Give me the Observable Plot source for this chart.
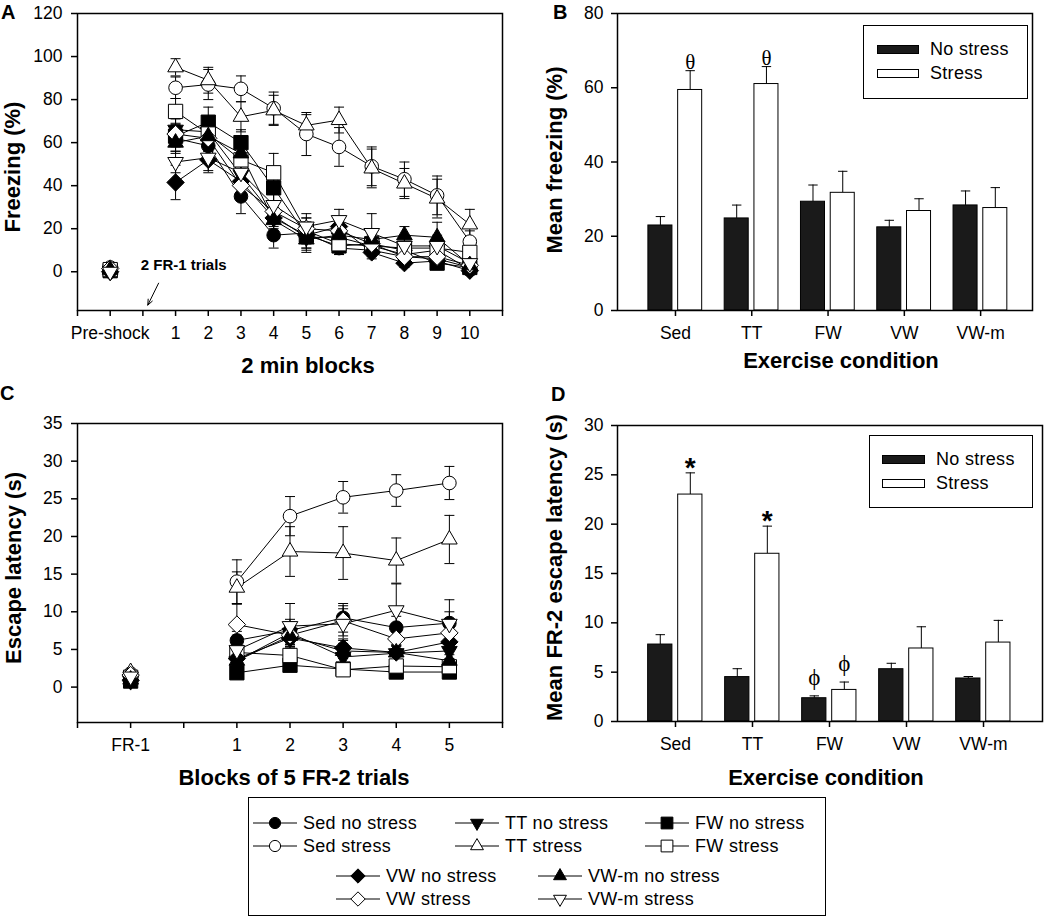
<!DOCTYPE html>
<html><head><meta charset="utf-8">
<script src="https://cdn.jsdelivr.net/npm/d3@7"></script>
<script src="https://cdn.jsdelivr.net/npm/@observablehq/plot@0.6"></script>
<style>
body{margin:0;background:white;}
#fig{position:relative;width:1050px;height:918px;font-family:'Liberation Sans',Arial,sans-serif;color:black;overflow:hidden;background:white}
.letter{position:absolute;font-weight:bold;font-size:20px;line-height:22px;z-index:5}
.legbox{position:absolute;border:1.5px solid black;box-sizing:border-box;background:white}
.legtxt{position:absolute;font-size:18px;line-height:20px;white-space:nowrap;letter-spacing:0.3px}
.sw{position:absolute;box-sizing:border-box;border:1px solid black}
</style></head><body><div id="fig"></div><script>
// ---------------- DATA ----------------
const groups = ["Sed no stress","Sed stress","TT no stress","TT stress","FW no stress","FW stress","VW no stress","VW stress","VW-m no stress","VW-m stress"];
const conditions = ["Sed","TT","FW","VW","VW-m"];

// Panel A: freezing (%) — Pre-shock, blocks 1..10
const blocksA = ["Pre-shock","1","2","3","4","5","6","7","8","9","10"];
const frzSedNo   = [0.5, 62, 58.5, 35, 17, 18, 11, 10, 7, 6, 2];
const frzSedSt   = [2, 85.5, 87, 85, 76, 64, 58, 49, 43, 35.5, 14];
const frzTTNo    = [0.5, 66, 65, 45, 26, 16, 16, 12, 8, 10, 1];
const frzTTSt    = [1, 95, 89, 72, 75, 68, 70.5, 48, 41, 34, 22];
const frzFWNo    = [0.5, 63, 69.5, 60, 39, 17, 12, 13, 10, 4, 2];
const frzFWSt    = [1, 74.5, 64, 52, 46, 19, 13, 12, 11, 11, 9];
const frzVWNo    = [0, 41.5, 52, 42, 25, 17, 21, 9, 4, 5, 0.5];
const frzVWSt    = [1.5, 64, 62, 40, 28, 20, 19, 13, 7, 7, 3];
const frzVWmNo   = [1, 60, 63, 55, 24, 15, 17, 15, 17, 16, 3];
const frzVWmSt   = [0, 51, 53, 46, 31, 21, 24, 18, 12, 12, 4];
const semSedNoA  = [0.5, 6, 6, 8, 6, 5, 3, 3, 2, 3, 2];
const semSedStA  = [1, 5, 7, 6, 7.5, 10, 9, 9, 8, 9, 5];
const semTTNoA   = [0.5, 5, 6, 6, 5, 6, 3, 3, 3, 5, 2];
const semTTStA   = [1, 4, 6, 7, 7, 5, 6, 9, 7, 9, 7];
const semFWNoA   = [0.5, 5, 7, 6, 7, 6, 4, 3, 3, 3, 2];
const semFWStA   = [1, 6, 8, 6, 9, 6, 4, 3, 3, 4, 3];
const semVWNoA   = [0.5, 8, 6, 6, 5, 6, 4, 3, 2, 2, 2];
const semVWStA   = [1, 5, 6, 6, 5, 5, 4, 4, 3, 3, 2];
const semVWmNoA  = [0.5, 5, 6, 5, 5, 6, 4, 3, 4, 7, 2];
const semVWmStA  = [0.5, 5, 6, 6, 5, 6, 5, 9, 4, 5, 2];

// Panel B: mean freezing (%)
const frzMeanNo   = [22.9, 24.8, 29.3, 22.4, 28.3];
const frzMeanNoE  = [2.4, 3.6, 4.5, 1.9, 3.9];
const frzMeanSt   = [59.4, 61.0, 31.7, 26.8, 27.6];
const frzMeanStE  = [5.2, 4.7, 5.8, 3.3, 5.5];

// Panel C: escape latency (s) — FR-1, blocks 1..5
const blocksC = ["FR-1","1","2","3","4","5"];
const escSedNo  = [1.2, 6.2, 7.5, 9.2, 7.9, 8.5];
const escSedSt  = [1.8, 14, 22.7, 25.2, 26.1, 27.1];
const escTTNo   = [0.8, 3.5, 7.2, 4.0, 4.5, 4.8];
const escTTSt   = [2.0, 13.2, 18.0, 17.8, 16.8, 19.6];
const escFWNo   = [0.8, 1.9, 2.9, 2.4, 2.0, 2.0];
const escFWSt   = [1.3, 4.6, 4.2, 2.3, 2.8, 2.7];
const escVWNo   = [0.9, 3.8, 6.5, 5.2, 4.6, 6.0];
const escVWSt   = [1.6, 8.3, 6.9, 8.8, 6.4, 7.2];
const escVWmNo  = [1.0, 3.5, 6.8, 4.8, 4.6, 3.5];
const escVWmSt  = [1.4, 4.9, 8.1, 8.4, 10.2, 8.4];
const semSedNoC = [0.3, 1.2, 1.5, 1.9, 1.5, 1.5];
const semSedStC = [0.3, 2.9, 2.6, 2.1, 2.1, 2.2];
const semTTNoC  = [0.2, 1, 1.5, 1, 1, 1];
const semTTStC  = [0.3, 2.1, 3.3, 3.5, 3.0, 3.2];
const semFWNoC  = [0.2, 0.5, 0.6, 0.5, 0.5, 0.5];
const semFWStC  = [0.3, 1, 1.2, 0.5, 0.6, 0.6];
const semVWNoC  = [0.2, 1, 1.2, 1, 1, 1];
const semVWStC  = [0.3, 2.7, 1.2, 2, 1, 1];
const semVWmNoC = [0.2, 0.8, 1.2, 1, 1, 0.8];
const semVWmStC = [0.3, 2, 3, 2, 3.5, 3.2];

// Panel D: mean FR-2 escape latency (s)
const escMeanNo  = [7.8, 4.5, 2.36, 5.3, 4.36];
const escMeanNoE = [1.0, 0.85, 0.24, 0.6, 0.2];
const escMeanSt  = [23.0, 17.0, 3.2, 7.4, 8.0];
const escMeanStE = [2.2, 2.8, 0.8, 2.2, 2.25];

// significance marks
const marksB = [{i:0, kind:"st", t:"θ"}, {i:1, kind:"st", t:"θ"}];
const marksD = [{i:0, kind:"st", t:"*"}, {i:1, kind:"st", t:"*"}, {i:2, kind:"no", t:"ϕ"}, {i:2, kind:"st", t:"ϕ"}];
const noteA = [{t:"2 FR-1 trials", x:3.25, y:3}];

const freezeA = [frzSedNo, frzSedSt, frzTTNo, frzTTSt, frzFWNo, frzFWSt, frzVWNo, frzVWSt, frzVWmNo, frzVWmSt];
const semA = [semSedNoA, semSedStA, semTTNoA, semTTStA, semFWNoA, semFWStA, semVWNoA, semVWStA, semVWmNoA, semVWmStA];
const escC = [escSedNo, escSedSt, escTTNo, escTTSt, escFWNo, escFWSt, escVWNo, escVWSt, escVWmNo, escVWmSt];
const semC = [semSedNoC, semSedStC, semTTNoC, semTTStC, semFWNoC, semFWStC, semVWNoC, semVWStC, semVWmNoC, semVWmStC];

// ---------------- STYLE ----------------
const shapes = ["circle","circle","down","up","square","square","diamond","diamond","up","down"];
const filled = [true,false,true,false,true,false,true,false,true,false];
const FONT = "'Liberation Sans', Arial, sans-serif";
const SERIF = "'Liberation Serif', 'Times New Roman', serif";

function sym(kind){
  return {draw(ctx, size){
    const r = Math.sqrt(size/Math.PI);
    if (kind==="circle"){ ctx.moveTo(r,0); ctx.arc(0,0,r,0,2*Math.PI); }
    else if (kind==="square"){ const s=r*1.05; ctx.rect(-s,-s,2*s,2*s); }
    else if (kind==="up"){ const w=r*1.15, h=w*Math.sqrt(3); ctx.moveTo(0,-2*h/3); ctx.lineTo(w,h/3); ctx.lineTo(-w,h/3); ctx.closePath(); }
    else if (kind==="down"){ const w=r*1.15, h=w*Math.sqrt(3); ctx.moveTo(0,2*h/3); ctx.lineTo(w,-h/3); ctx.lineTo(-w,-h/3); ctx.closePath(); }
    else if (kind==="diamond"){ const s=r*1.28; ctx.moveTo(0,-s); ctx.lineTo(s,0); ctx.lineTo(0,s); ctx.lineTo(-s,0); ctx.closePath(); }
  }};
}
const cap = w => ({draw(ctx){ ctx.moveTo(-w,0); ctx.lineTo(w,0); }});

const fig = document.getElementById("fig");
function place(el, left, top){ el.style.position="absolute"; el.style.left=left+"px"; el.style.top=top+"px"; fig.appendChild(el); return el; }
const baseStyle = {fontFamily: FONT, fontSize: "17.5px", color: "black", background: "transparent", overflow: "visible"};
const xPos = i => i === 0 ? 1 : i + 2;

function titles(xl, yl, t){
  return [
    Plot.text([xl], {frameAnchor:"bottom", dx:t.xdx, dy:t.xdy, fontWeight:"bold", fontSize:22, textAnchor:"middle", lineAnchor:"middle", fill:"black"}),
    Plot.text([yl], {frameAnchor:"left", dx:t.ydx, dy:t.ydy, rotate:-90, fontWeight:"bold", fontSize:22, textAnchor:"middle", lineAnchor:"middle", fill:"black"})
  ];
}

function lineChart(o){
  const rows = [];
  o.values.forEach((arr, gi) => arr.forEach((v, i) => rows.push({gi, x: xPos(i), y: v, e: o.errs[gi][i], first: i===0})));
  const tickLab = new Map(o.labels.map((l,i)=>[xPos(i), l]));
  return Plot.plot({
    width:o.width, height:o.height, marginLeft:o.ml, marginTop:o.mt, marginRight:o.mr, marginBottom:o.mb,
    x:{domain:o.xDomain}, y:{domain:o.yDomain},
    style: baseStyle,
    marks:[
      Plot.ruleX(rows, {x:"x", y1:d=>d.y-d.e, y2:d=>d.y+d.e, stroke:"black", strokeWidth:1}),
      Plot.dot(rows, {x:"x", y:d=>d.y+d.e, symbol:cap(5), r:3, fill:"none", stroke:"black", strokeWidth:1}),
      Plot.dot(rows, {x:"x", y:d=>d.y-d.e, symbol:cap(5), r:3, fill:"none", stroke:"black", strokeWidth:1}),
      Plot.line(rows.filter(d=>!d.first), {x:"x", y:"y", z:"gi", stroke:"black", strokeWidth:1}),
      ...groups.map((g, gi) => Plot.dot(rows.filter(d=>d.gi===gi), {x:"x", y:"y", symbol:sym(shapes[gi]), r:6.8, fill: filled[gi] ? "black" : "white", stroke:"black", strokeWidth:1})),
      ...(o.extra || []),
      Plot.frame({stroke:"black", strokeWidth:1.5}),
      Plot.axisY({ticks:o.yTicks, tickSize:6, tickPadding:9, fontSize:17.5, label:null, stroke:"black", strokeWidth:1.5}),
      Plot.axisX({ticks:d3.range(o.xDomain[0], o.xDomain[1]+0.01, 1), tickFormat:d=>tickLab.get(d) ?? "", tickSize:6, tickPadding:10, fontSize:17.5, label:null, stroke:"black", strokeWidth:1.5}),
      ...titles(o.xlabel, o.ylabel, o.t)
    ]
  });
}

function barChart(o){
  const rows = [
    ...conditions.map((c,i)=>({i, v:o.no[i], e:o.noE[i], kind:"no"})),
    ...conditions.map((c,i)=>({i, v:o.st[i], e:o.stE[i], kind:"st"}))
  ];
  const lo = {no:-0.355, st:0.035}, hi = {no:-0.04, st:0.35};
  const cx = d => d.i + (lo[d.kind] + hi[d.kind]) / 2;
  const top = m => { const r = rows.find(d => d.i===m.i && d.kind===m.kind); return r.v + r.e; };
  const ann = o.ann.map(m => ({...m, x: m.i + (lo[m.kind]+hi[m.kind])/2, y: top(m)}));
  return Plot.plot({
    width:o.width, height:o.height, marginLeft:o.ml, marginTop:o.mt, marginRight:o.mr, marginBottom:o.mb,
    x:{domain:o.xDomain}, y:{domain:o.yDomain},
    style: baseStyle,
    marks:[
      Plot.ruleX(rows, {x:cx, y1:"v", y2:d=>d.v+d.e, stroke:"black", strokeWidth:1}),
      Plot.dot(rows, {x:cx, y:d=>d.v+d.e, symbol:cap(4.7), r:3, fill:"none", stroke:"black", strokeWidth:1}),
      Plot.rectY(rows.filter(d=>d.kind==="no"), {x1:d=>d.i+lo.no, x2:d=>d.i+hi.no, y1:0, y2:"v", fill:"#1a1a1a", stroke:"black", strokeWidth:1}),
      Plot.rectY(rows.filter(d=>d.kind==="st"), {x1:d=>d.i+lo.st, x2:d=>d.i+hi.st, y1:0, y2:"v", fill:"white", stroke:"black", strokeWidth:1}),
      ...o.annMarks(ann),
      Plot.frame({stroke:"black", strokeWidth:1.5}),
      Plot.axisY({ticks:o.yTicks, tickSize:6, tickPadding:8, fontSize:17.5, label:null, stroke:"black", strokeWidth:1.5}),
      Plot.axisX({ticks:d3.range(conditions.length), tickFormat:i=>conditions[i], tickSize:6, tickPadding:10, fontSize:17.5, label:null, stroke:"black", strokeWidth:1.5}),
      ...titles(o.xlabel, o.ylabel, o.t)
    ]
  });
}

// ---- Panel A ----
place(lineChart({
  values:freezeA, errs:semA, labels:blocksA,
  width:520, height:385, ml:77, mt:13, mr:18, mb:75,
  xDomain:[0,13], yDomain:[-18,120], yTicks:d3.range(0,121,20),
  xlabel:"2 min blocks", ylabel:"Freezing (%)", t:{xdx:18, xdy:55, ydx:-65, ydy:5},
  extra:[
    Plot.text(noteA, {x:"x", y:"y", text:"t", fontWeight:"bold", fontSize:15, fill:"black"}),
    Plot.arrow(noteA, {x1:d=>d.x-0.77, y1:d=>d.y-8.3, x2:d=>d.x-1.1, y2:d=>d.y-18.5, stroke:"black", strokeWidth:1, headLength:9, headAngle:45})
  ]
}), 0, 0);

// ---- Panel B ----
place(barChart({
  no:frzMeanNo, noE:frzMeanNoE, st:frzMeanSt, stE:frzMeanStE, ann:marksB,
  width:530, height:385, ml:97, mt:13, mr:18, mb:75,
  xDomain:[-0.76,4.68], yDomain:[0,80], yTicks:d3.range(0,81,20),
  xlabel:"Exercise condition", ylabel:"Mean freezing (%)", t:{xdx:16, xdy:50, ydx:-63, ydy:-2},
  annMarks: ann => [Plot.text(ann, {x:"x", y:"y", text:"t", dy:-8, fontSize:21, fontFamily:SERIF, fill:"black", lineAnchor:"middle"})]
}), 520, 0);

// ---- Panel C ----
place(lineChart({
  values:escC, errs:semC, labels:blocksC,
  width:520, height:400, ml:77, mt:33, mr:18, mb:68,
  xDomain:[0,8], yDomain:[-4.7,35], yTicks:d3.range(0,36,5),
  xlabel:"Blocks of 5 FR-2 trials", ylabel:"Escape latency (s)", t:{xdx:4, xdy:55, ydx:-64, ydy:-5}
}), 0, 390);

// ---- Panel D ----
place(barChart({
  no:escMeanNo, noE:escMeanNoE, st:escMeanSt, stE:escMeanStE, ann:marksD,
  width:530, height:400, ml:97, mt:35, mr:8, mb:69,
  xDomain:[-0.753,4.766], yDomain:[0,30], yTicks:d3.range(0,31,5),
  xlabel:"Exercise condition", ylabel:"Mean FR-2 escape latency (s)", t:{xdx:-4, xdy:56, ydx:-63, ydy:-6},
  annMarks: ann => [
    Plot.text(ann.filter(d=>d.t==="*"), {x:"x", y:"y", text:"t", dy:-5, fontSize:28, fontWeight:"bold", fill:"black", lineAnchor:"middle"}),
    Plot.text(ann.filter(d=>d.t!=="*"), {x:"x", y:"y", text:"t", dy:-18, fontSize:23, fontFamily:SERIF, fill:"black", lineAnchor:"middle"})
  ]
}), 520, 390);

// ---- Panel letters ----
[["A",1,1],["B",553,1],["C",0,382],["D",551,383]].forEach(([t,l,tp])=>{
  const d=document.createElement("div"); d.className="letter"; d.textContent=t; place(d,l,tp);
});

// ---- Bar legends (B, D) ----
function barLegend(box, sw, txt){
  const b=document.createElement("div"); b.className="legbox"; b.style.width=box.w+"px"; b.style.height=box.h+"px"; place(b, box.l, box.t);
  const s1=document.createElement("div"); s1.className="sw"; s1.style.background="#1a1a1a"; s1.style.width=sw.w+"px"; s1.style.height=sw.h+"px"; place(s1, sw.l, sw.t1);
  const s2=document.createElement("div"); s2.className="sw"; s2.style.background="white"; s2.style.width=sw.w+"px"; s2.style.height=sw.h+"px"; place(s2, sw.l, sw.t2);
  ["No stress","Stress"].forEach((t,k)=>{ const d=document.createElement("div"); d.className="legtxt"; d.textContent=t; place(d, txt.l, k? txt.t2 : txt.t1); });
}
barLegend({l:863,t:25,w:165,h:74}, {l:877,t1:45,t2:69,w:42,h:9}, {l:930,t1:39,t2:63});
barLegend({l:869,t:435,w:164,h:73}, {l:882,t1:455,t2:479,w:43,h:9}, {l:936,t1:449,t2:473});

// ---- Bottom legend ----
const lg=document.createElement("div"); lg.className="legbox"; lg.style.width="578px"; lg.style.height="119px"; place(lg, 248, 797);
const legLayout = [
  [0, 253, 823], [1, 253, 846], [2, 455, 823], [3, 455, 846], [4, 645, 823], [5, 645, 846],
  [6, 336, 876], [7, 336, 899], [8, 538, 876], [9, 538, 899]
];
legLayout.forEach(([gi, l, cy])=>{
  const svg = d3.create("svg").attr("width",46).attr("height",20).style("overflow","visible");
  svg.append("line").attr("x1",0).attr("x2",44).attr("y1",10).attr("y2",10).attr("stroke","black").attr("stroke-width",1);
  svg.append("path").attr("transform","translate(22,10)").attr("d", d3.symbol(sym(shapes[gi]), Math.PI*5.6*5.6)())
    .attr("fill", filled[gi] ? "black" : "white").attr("stroke","black").attr("stroke-width",1);
  place(svg.node(), l, cy-10);
  const t=document.createElement("div"); t.className="legtxt"; t.textContent=groups[gi]; place(t, l+50, cy-10);
});
</script></body></html>
